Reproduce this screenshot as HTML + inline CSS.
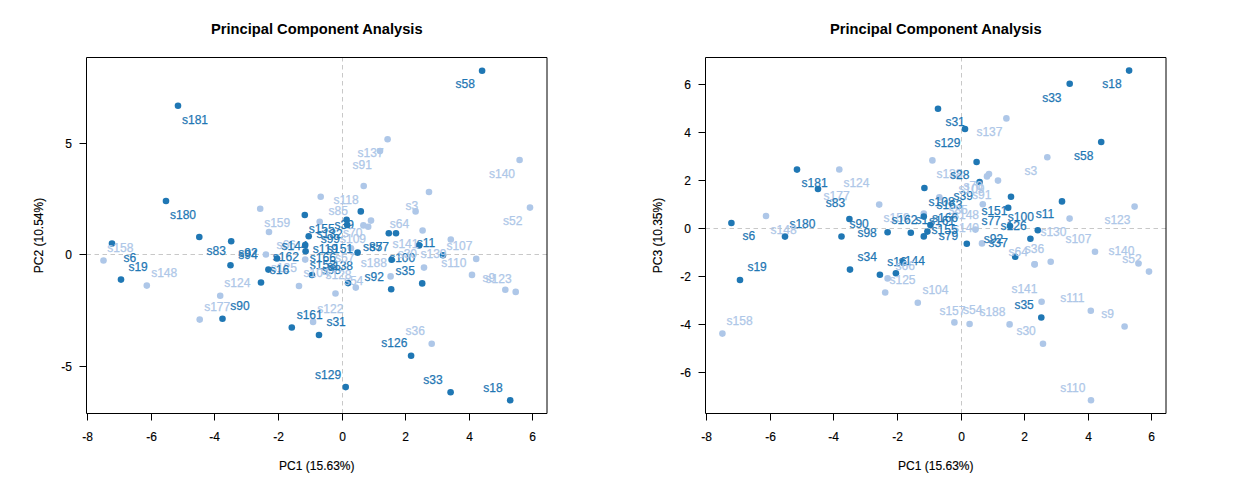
<!DOCTYPE html>
<html><head><meta charset="utf-8"><style>
html,body{margin:0;padding:0;background:#fff;width:1238px;height:500px;overflow:hidden}
svg{display:block}
text{font-family:"Liberation Sans",sans-serif;font-size:12px}
.t{font-weight:bold;font-size:14.7px;fill:#000}
.k{fill:#000;stroke:#000;stroke-width:0.15px}
.lb{stroke-width:0.25px}
.bx{fill:none;stroke:#000;stroke-width:1}
.tk{stroke:#000;stroke-width:1}
.dl{stroke:#c8c8c8;stroke-width:1;stroke-dasharray:4.5 3.5}
</style></head><body>
<svg width="1238" height="500" viewBox="0 0 1238 500">
<rect width="1238" height="500" fill="#fff"/>
<text x="316.8" y="33.6" class="t" text-anchor="middle">Principal Component Analysis</text>
<line x1="342.5" y1="413.5" x2="342.5" y2="57.5" class="dl"/>
<line x1="86.5" y1="254.5" x2="547.0" y2="254.5" class="dl"/>
<circle cx="178.0" cy="105.8" r="3.3" fill="#1F77B4"/>
<circle cx="387.6" cy="139.3" r="3.3" fill="#AEC7E8"/>
<circle cx="380.0" cy="151.0" r="3.3" fill="#AEC7E8"/>
<circle cx="363.7" cy="186.0" r="3.3" fill="#AEC7E8"/>
<circle cx="320.7" cy="196.8" r="3.3" fill="#AEC7E8"/>
<circle cx="482.1" cy="70.7" r="3.3" fill="#1F77B4"/>
<circle cx="166.0" cy="201.0" r="3.3" fill="#1F77B4"/>
<circle cx="199.3" cy="237.0" r="3.3" fill="#1F77B4"/>
<circle cx="112.0" cy="243.6" r="3.3" fill="#1F77B4"/>
<circle cx="231.2" cy="241.2" r="3.3" fill="#1F77B4"/>
<circle cx="260.2" cy="208.8" r="3.3" fill="#AEC7E8"/>
<circle cx="269.0" cy="232.0" r="3.3" fill="#AEC7E8"/>
<circle cx="265.9" cy="254.5" r="3.3" fill="#AEC7E8"/>
<circle cx="277.0" cy="258.5" r="3.3" fill="#1F77B4"/>
<circle cx="230.5" cy="265.2" r="3.3" fill="#1F77B4"/>
<circle cx="103.5" cy="260.5" r="3.3" fill="#AEC7E8"/>
<circle cx="121.0" cy="279.6" r="3.3" fill="#1F77B4"/>
<circle cx="146.8" cy="285.6" r="3.3" fill="#AEC7E8"/>
<circle cx="261.0" cy="282.5" r="3.3" fill="#1F77B4"/>
<circle cx="220.2" cy="295.7" r="3.3" fill="#AEC7E8"/>
<circle cx="199.7" cy="319.6" r="3.3" fill="#AEC7E8"/>
<circle cx="222.5" cy="318.8" r="3.3" fill="#1F77B4"/>
<circle cx="304.8" cy="215.0" r="3.3" fill="#1F77B4"/>
<circle cx="319.7" cy="221.7" r="3.3" fill="#AEC7E8"/>
<circle cx="308.7" cy="236.3" r="3.3" fill="#1F77B4"/>
<circle cx="305.2" cy="245.0" r="3.3" fill="#1F77B4"/>
<circle cx="305.6" cy="251.3" r="3.3" fill="#1F77B4"/>
<circle cx="305.2" cy="259.6" r="3.3" fill="#AEC7E8"/>
<circle cx="268.4" cy="269.6" r="3.3" fill="#1F77B4"/>
<circle cx="346.6" cy="219.8" r="3.3" fill="#1F77B4"/>
<circle cx="347.2" cy="225.0" r="3.3" fill="#1F77B4"/>
<circle cx="360.8" cy="211.4" r="3.3" fill="#1F77B4"/>
<circle cx="371.0" cy="220.6" r="3.3" fill="#AEC7E8"/>
<circle cx="363.4" cy="225.4" r="3.3" fill="#AEC7E8"/>
<circle cx="368.2" cy="226.8" r="3.3" fill="#AEC7E8"/>
<circle cx="388.8" cy="233.2" r="3.3" fill="#1F77B4"/>
<circle cx="396.0" cy="233.2" r="3.3" fill="#1F77B4"/>
<circle cx="357.6" cy="252.6" r="3.3" fill="#1F77B4"/>
<circle cx="351.0" cy="248.3" r="3.3" fill="#AEC7E8"/>
<circle cx="510.2" cy="400.2" r="3.3" fill="#1F77B4"/>
<circle cx="450.6" cy="392.2" r="3.3" fill="#1F77B4"/>
<circle cx="411.1" cy="355.7" r="3.3" fill="#1F77B4"/>
<circle cx="431.7" cy="343.8" r="3.3" fill="#AEC7E8"/>
<circle cx="312.0" cy="275.0" r="3.3" fill="#1F77B4"/>
<circle cx="299.0" cy="286.0" r="3.3" fill="#AEC7E8"/>
<circle cx="422.6" cy="230.5" r="3.3" fill="#AEC7E8"/>
<circle cx="450.8" cy="239.5" r="3.3" fill="#AEC7E8"/>
<circle cx="419.1" cy="245.4" r="3.3" fill="#1F77B4"/>
<circle cx="443.0" cy="255.3" r="3.3" fill="#1F77B4"/>
<circle cx="391.6" cy="259.7" r="3.3" fill="#1F77B4"/>
<circle cx="424.0" cy="267.6" r="3.3" fill="#AEC7E8"/>
<circle cx="390.6" cy="276.4" r="3.3" fill="#AEC7E8"/>
<circle cx="422.2" cy="283.4" r="3.3" fill="#1F77B4"/>
<circle cx="519.6" cy="160.0" r="3.3" fill="#AEC7E8"/>
<circle cx="429.0" cy="192.0" r="3.3" fill="#AEC7E8"/>
<circle cx="530.0" cy="207.6" r="3.3" fill="#AEC7E8"/>
<circle cx="415.6" cy="211.4" r="3.3" fill="#AEC7E8"/>
<circle cx="476.2" cy="258.9" r="3.3" fill="#AEC7E8"/>
<circle cx="472.0" cy="274.9" r="3.3" fill="#AEC7E8"/>
<circle cx="505.3" cy="289.8" r="3.3" fill="#AEC7E8"/>
<circle cx="515.7" cy="291.9" r="3.3" fill="#AEC7E8"/>
<circle cx="335.5" cy="293.5" r="3.3" fill="#AEC7E8"/>
<circle cx="348.1" cy="283.1" r="3.3" fill="#1F77B4"/>
<circle cx="355.8" cy="287.6" r="3.3" fill="#AEC7E8"/>
<circle cx="313.1" cy="321.9" r="3.3" fill="#AEC7E8"/>
<circle cx="291.8" cy="327.5" r="3.3" fill="#1F77B4"/>
<circle cx="319.0" cy="335.0" r="3.3" fill="#1F77B4"/>
<circle cx="345.7" cy="387.1" r="3.3" fill="#1F77B4"/>
<circle cx="391.2" cy="289.3" r="3.3" fill="#1F77B4"/>
<text x="182.0" y="124.3" fill="#1F77B4" stroke="#1F77B4" class="lb">s181</text>
<text x="455.6" y="87.7" fill="#1F77B4" stroke="#1F77B4" class="lb">s58</text>
<text x="170.0" y="219.1" fill="#1F77B4" stroke="#1F77B4" class="lb">s180</text>
<text x="107.3" y="252.0" fill="#AEC7E8" stroke="#AEC7E8" class="lb">s158</text>
<text x="206.5" y="255.0" fill="#1F77B4" stroke="#1F77B4" class="lb">s83</text>
<text x="238.3" y="257.0" fill="#1F77B4" stroke="#1F77B4" class="lb">s92</text>
<text x="238.3" y="259.2" fill="#1F77B4" stroke="#1F77B4" class="lb">s94</text>
<text x="264.2" y="227.0" fill="#AEC7E8" stroke="#AEC7E8" class="lb">s159</text>
<text x="123.5" y="261.8" fill="#1F77B4" stroke="#1F77B4" class="lb">s6</text>
<text x="128.4" y="270.8" fill="#1F77B4" stroke="#1F77B4" class="lb">s19</text>
<text x="151.2" y="276.8" fill="#AEC7E8" stroke="#AEC7E8" class="lb">s148</text>
<text x="224.3" y="287.2" fill="#AEC7E8" stroke="#AEC7E8" class="lb">s124</text>
<text x="204.2" y="311.2" fill="#AEC7E8" stroke="#AEC7E8" class="lb">s177</text>
<text x="230.3" y="310.3" fill="#1F77B4" stroke="#1F77B4" class="lb">s90</text>
<text x="357.6" y="156.9" fill="#AEC7E8" stroke="#AEC7E8" class="lb">s137</text>
<text x="352.5" y="168.9" fill="#AEC7E8" stroke="#AEC7E8" class="lb">s91</text>
<text x="333.5" y="203.5" fill="#AEC7E8" stroke="#AEC7E8" class="lb">s118</text>
<text x="328.6" y="214.7" fill="#AEC7E8" stroke="#AEC7E8" class="lb">s85</text>
<text x="308.7" y="232.8" fill="#1F77B4" stroke="#1F77B4" class="lb">s155</text>
<text x="334.5" y="229.0" fill="#1F77B4" stroke="#1F77B4" class="lb">s39</text>
<text x="316.6" y="237.6" fill="#1F77B4" stroke="#1F77B4" class="lb">s132</text>
<text x="320.7" y="243.0" fill="#1F77B4" stroke="#1F77B4" class="lb">s99</text>
<text x="343.0" y="236.9" fill="#AEC7E8" stroke="#AEC7E8" class="lb">s70</text>
<text x="340.0" y="242.9" fill="#AEC7E8" stroke="#AEC7E8" class="lb">s109</text>
<text x="389.8" y="228.3" fill="#AEC7E8" stroke="#AEC7E8" class="lb">s64</text>
<text x="405.5" y="210.1" fill="#AEC7E8" stroke="#AEC7E8" class="lb">s3</text>
<text x="483.3" y="391.8" fill="#1F77B4" stroke="#1F77B4" class="lb">s18</text>
<text x="423.3" y="383.9" fill="#1F77B4" stroke="#1F77B4" class="lb">s33</text>
<text x="381.3" y="347.0" fill="#1F77B4" stroke="#1F77B4" class="lb">s126</text>
<text x="276.4" y="248.9" fill="#AEC7E8" stroke="#AEC7E8" class="lb">s66</text>
<text x="281.6" y="249.7" fill="#1F77B4" stroke="#1F77B4" class="lb">s144</text>
<text x="272.8" y="260.9" fill="#1F77B4" stroke="#1F77B4" class="lb">s162</text>
<text x="270.8" y="272.1" fill="#AEC7E8" stroke="#AEC7E8" class="lb">s125</text>
<text x="269.8" y="273.8" fill="#1F77B4" stroke="#1F77B4" class="lb">s16</text>
<text x="312.8" y="253.3" fill="#1F77B4" stroke="#1F77B4" class="lb">s119</text>
<text x="327.0" y="253.0" fill="#1F77B4" stroke="#1F77B4" class="lb">s151</text>
<text x="363.0" y="251.3" fill="#1F77B4" stroke="#1F77B4" class="lb">s87</text>
<text x="369.5" y="251.3" fill="#1F77B4" stroke="#1F77B4" class="lb">s57</text>
<text x="360.8" y="267.3" fill="#AEC7E8" stroke="#AEC7E8" class="lb">s188</text>
<text x="389.2" y="262.3" fill="#1F77B4" stroke="#1F77B4" class="lb">s100</text>
<text x="395.6" y="274.5" fill="#1F77B4" stroke="#1F77B4" class="lb">s35</text>
<text x="392.4" y="247.7" fill="#AEC7E8" stroke="#AEC7E8" class="lb">s141</text>
<text x="416.8" y="247.2" fill="#1F77B4" stroke="#1F77B4" class="lb">s11</text>
<text x="397.7" y="258.3" fill="#AEC7E8" stroke="#AEC7E8" class="lb">s30</text>
<text x="420.5" y="258.3" fill="#AEC7E8" stroke="#AEC7E8" class="lb">s139</text>
<text x="446.4" y="249.9" fill="#AEC7E8" stroke="#AEC7E8" class="lb">s107</text>
<text x="441.3" y="266.8" fill="#AEC7E8" stroke="#AEC7E8" class="lb">s110</text>
<text x="489.0" y="177.9" fill="#AEC7E8" stroke="#AEC7E8" class="lb">s140</text>
<text x="503.0" y="224.9" fill="#AEC7E8" stroke="#AEC7E8" class="lb">s52</text>
<text x="482.4" y="282.3" fill="#AEC7E8" stroke="#AEC7E8" class="lb">s9</text>
<text x="485.6" y="282.8" fill="#AEC7E8" stroke="#AEC7E8" class="lb">s123</text>
<text x="317.3" y="313.3" fill="#AEC7E8" stroke="#AEC7E8" class="lb">s122</text>
<text x="296.7" y="318.9" fill="#1F77B4" stroke="#1F77B4" class="lb">s161</text>
<text x="326.4" y="325.9" fill="#1F77B4" stroke="#1F77B4" class="lb">s31</text>
<text x="343.9" y="284.8" fill="#AEC7E8" stroke="#AEC7E8" class="lb">s54</text>
<text x="364.5" y="280.8" fill="#1F77B4" stroke="#1F77B4" class="lb">s92</text>
<text x="405.5" y="334.5" fill="#AEC7E8" stroke="#AEC7E8" class="lb">s36</text>
<text x="315.1" y="379.2" fill="#1F77B4" stroke="#1F77B4" class="lb">s129</text>
<text x="309.8" y="262.3" fill="#1F77B4" stroke="#1F77B4" class="lb">s166</text>
<text x="309.8" y="268.6" fill="#1F77B4" stroke="#1F77B4" class="lb">s153</text>
<text x="321.7" y="273.5" fill="#1F77B4" stroke="#1F77B4" class="lb">s98</text>
<text x="327.0" y="270.0" fill="#1F77B4" stroke="#1F77B4" class="lb">s138</text>
<text x="303.5" y="276.7" fill="#AEC7E8" stroke="#AEC7E8" class="lb">s104</text>
<text x="325.5" y="279.1" fill="#AEC7E8" stroke="#AEC7E8" class="lb">s128</text>
<text x="335.0" y="262.3" fill="#AEC7E8" stroke="#AEC7E8" class="lb">s57</text>
<path d="M86.5 57.5H547.0V413.5H86.5Z" class="bx"/>
<line x1="87.5" y1="413.5" x2="87.5" y2="420.5" class="tk"/>
<text x="87.5" y="440.5" text-anchor="middle" class="k">-8</text>
<line x1="151.5" y1="413.5" x2="151.5" y2="420.5" class="tk"/>
<text x="151.5" y="440.5" text-anchor="middle" class="k">-6</text>
<line x1="214.5" y1="413.5" x2="214.5" y2="420.5" class="tk"/>
<text x="214.5" y="440.5" text-anchor="middle" class="k">-4</text>
<line x1="278.5" y1="413.5" x2="278.5" y2="420.5" class="tk"/>
<text x="278.5" y="440.5" text-anchor="middle" class="k">-2</text>
<line x1="342.5" y1="413.5" x2="342.5" y2="420.5" class="tk"/>
<text x="342.5" y="440.5" text-anchor="middle" class="k">0</text>
<line x1="405.5" y1="413.5" x2="405.5" y2="420.5" class="tk"/>
<text x="405.5" y="440.5" text-anchor="middle" class="k">2</text>
<line x1="469.5" y1="413.5" x2="469.5" y2="420.5" class="tk"/>
<text x="469.5" y="440.5" text-anchor="middle" class="k">4</text>
<line x1="532.5" y1="413.5" x2="532.5" y2="420.5" class="tk"/>
<text x="532.5" y="440.5" text-anchor="middle" class="k">6</text>
<line x1="86.5" y1="143.5" x2="79.5" y2="143.5" class="tk"/>
<text x="72.0" y="147.8" text-anchor="end" class="k">5</text>
<line x1="86.5" y1="254.5" x2="79.5" y2="254.5" class="tk"/>
<text x="72.0" y="258.8" text-anchor="end" class="k">0</text>
<line x1="86.5" y1="366.5" x2="79.5" y2="366.5" class="tk"/>
<text x="72.0" y="370.8" text-anchor="end" class="k">-5</text>
<text x="316.8" y="469.8" text-anchor="middle" class="k">PC1 (15.63%)</text>
<text transform="translate(43.1,235.5) rotate(-90)" text-anchor="middle" class="k">PC2 (10.54%)</text>
<text x="935.8" y="33.6" class="t" text-anchor="middle">Principal Component Analysis</text>
<line x1="961.5" y1="413.5" x2="961.5" y2="57.5" class="dl"/>
<line x1="705.5" y1="228.5" x2="1166.0" y2="228.5" class="dl"/>
<circle cx="797.0" cy="169.6" r="3.3" fill="#1F77B4"/>
<circle cx="818.0" cy="189.0" r="3.3" fill="#1F77B4"/>
<circle cx="766.0" cy="216.0" r="3.3" fill="#AEC7E8"/>
<circle cx="731.4" cy="223.0" r="3.3" fill="#1F77B4"/>
<circle cx="785.0" cy="236.6" r="3.3" fill="#1F77B4"/>
<circle cx="938.0" cy="108.7" r="3.3" fill="#1F77B4"/>
<circle cx="1129.1" cy="70.6" r="3.3" fill="#1F77B4"/>
<circle cx="1069.7" cy="83.8" r="3.3" fill="#1F77B4"/>
<circle cx="1101.2" cy="142.0" r="3.3" fill="#1F77B4"/>
<circle cx="1047.3" cy="157.2" r="3.3" fill="#AEC7E8"/>
<circle cx="1006.4" cy="118.4" r="3.3" fill="#AEC7E8"/>
<circle cx="965.0" cy="129.0" r="3.3" fill="#1F77B4"/>
<circle cx="932.4" cy="160.4" r="3.3" fill="#AEC7E8"/>
<circle cx="976.6" cy="162.0" r="3.3" fill="#1F77B4"/>
<circle cx="989.0" cy="174.0" r="3.3" fill="#AEC7E8"/>
<circle cx="987.0" cy="176.4" r="3.3" fill="#AEC7E8"/>
<circle cx="998.0" cy="180.6" r="3.3" fill="#AEC7E8"/>
<circle cx="979.6" cy="182.0" r="3.3" fill="#1F77B4"/>
<circle cx="924.4" cy="188.0" r="3.3" fill="#1F77B4"/>
<circle cx="1062.0" cy="201.4" r="3.3" fill="#1F77B4"/>
<circle cx="1134.6" cy="206.6" r="3.3" fill="#AEC7E8"/>
<circle cx="1069.6" cy="218.6" r="3.3" fill="#AEC7E8"/>
<circle cx="1095.0" cy="251.7" r="3.3" fill="#AEC7E8"/>
<circle cx="1034.6" cy="264.2" r="3.3" fill="#AEC7E8"/>
<circle cx="1050.7" cy="261.7" r="3.3" fill="#AEC7E8"/>
<circle cx="1138.5" cy="263.5" r="3.3" fill="#AEC7E8"/>
<circle cx="1149.0" cy="271.6" r="3.3" fill="#AEC7E8"/>
<circle cx="1041.6" cy="301.7" r="3.3" fill="#AEC7E8"/>
<circle cx="1041.3" cy="317.5" r="3.3" fill="#1F77B4"/>
<circle cx="1090.8" cy="310.8" r="3.3" fill="#AEC7E8"/>
<circle cx="1124.6" cy="326.5" r="3.3" fill="#AEC7E8"/>
<circle cx="1043.0" cy="343.7" r="3.3" fill="#AEC7E8"/>
<circle cx="1091.0" cy="400.3" r="3.3" fill="#AEC7E8"/>
<circle cx="954.4" cy="322.4" r="3.3" fill="#AEC7E8"/>
<circle cx="969.6" cy="324.0" r="3.3" fill="#AEC7E8"/>
<circle cx="1009.6" cy="324.4" r="3.3" fill="#AEC7E8"/>
<circle cx="740.0" cy="280.0" r="3.3" fill="#1F77B4"/>
<circle cx="722.4" cy="333.6" r="3.3" fill="#AEC7E8"/>
<circle cx="839.3" cy="169.5" r="3.3" fill="#AEC7E8"/>
<circle cx="841.5" cy="236.5" r="3.3" fill="#1F77B4"/>
<circle cx="879.2" cy="204.6" r="3.3" fill="#AEC7E8"/>
<circle cx="849.4" cy="219.0" r="3.3" fill="#1F77B4"/>
<circle cx="887.6" cy="232.2" r="3.3" fill="#1F77B4"/>
<circle cx="850.0" cy="269.6" r="3.3" fill="#1F77B4"/>
<circle cx="879.9" cy="274.7" r="3.3" fill="#1F77B4"/>
<circle cx="895.9" cy="273.3" r="3.3" fill="#1F77B4"/>
<circle cx="887.6" cy="278.4" r="3.3" fill="#AEC7E8"/>
<circle cx="902.8" cy="262.4" r="3.3" fill="#1F77B4"/>
<circle cx="885.2" cy="292.5" r="3.3" fill="#AEC7E8"/>
<circle cx="917.8" cy="302.8" r="3.3" fill="#AEC7E8"/>
<circle cx="939.4" cy="197.4" r="3.3" fill="#AEC7E8"/>
<circle cx="923.8" cy="213.6" r="3.3" fill="#AEC7E8"/>
<circle cx="923.8" cy="216.6" r="3.3" fill="#1F77B4"/>
<circle cx="910.8" cy="232.8" r="3.3" fill="#1F77B4"/>
<circle cx="927.4" cy="231.6" r="3.3" fill="#1F77B4"/>
<circle cx="923.8" cy="236.4" r="3.3" fill="#1F77B4"/>
<circle cx="930.4" cy="225.0" r="3.3" fill="#1F77B4"/>
<circle cx="982.8" cy="204.2" r="3.3" fill="#AEC7E8"/>
<circle cx="1011.0" cy="196.8" r="3.3" fill="#1F77B4"/>
<circle cx="1008.2" cy="207.8" r="3.3" fill="#1F77B4"/>
<circle cx="1010.0" cy="226.0" r="3.3" fill="#1F77B4"/>
<circle cx="1037.8" cy="230.2" r="3.3" fill="#1F77B4"/>
<circle cx="1030.4" cy="238.7" r="3.3" fill="#1F77B4"/>
<circle cx="975.4" cy="229.6" r="3.3" fill="#AEC7E8"/>
<circle cx="982.0" cy="243.4" r="3.3" fill="#AEC7E8"/>
<circle cx="1015.2" cy="256.8" r="3.3" fill="#1F77B4"/>
<circle cx="1034.6" cy="264.4" r="3.3" fill="#AEC7E8"/>
<circle cx="966.8" cy="243.7" r="3.3" fill="#1F77B4"/>
<text x="801.6" y="186.9" fill="#1F77B4" stroke="#1F77B4" class="lb">s181</text>
<text x="789.4" y="227.9" fill="#1F77B4" stroke="#1F77B4" class="lb">s180</text>
<text x="770.6" y="234.1" fill="#AEC7E8" stroke="#AEC7E8" class="lb">s148</text>
<text x="742.5" y="240.1" fill="#1F77B4" stroke="#1F77B4" class="lb">s6</text>
<text x="1102.3" y="88.0" fill="#1F77B4" stroke="#1F77B4" class="lb">s18</text>
<text x="1042.2" y="101.9" fill="#1F77B4" stroke="#1F77B4" class="lb">s33</text>
<text x="1074.1" y="159.9" fill="#1F77B4" stroke="#1F77B4" class="lb">s58</text>
<text x="945.4" y="126.1" fill="#1F77B4" stroke="#1F77B4" class="lb">s31</text>
<text x="976.4" y="135.5" fill="#AEC7E8" stroke="#AEC7E8" class="lb">s137</text>
<text x="934.4" y="146.9" fill="#1F77B4" stroke="#1F77B4" class="lb">s129</text>
<text x="936.4" y="177.9" fill="#AEC7E8" stroke="#AEC7E8" class="lb">s138</text>
<text x="950.0" y="178.9" fill="#1F77B4" stroke="#1F77B4" class="lb">s28</text>
<text x="1024.4" y="174.5" fill="#AEC7E8" stroke="#AEC7E8" class="lb">s3</text>
<text x="1104.4" y="223.5" fill="#AEC7E8" stroke="#AEC7E8" class="lb">s123</text>
<text x="1065.4" y="242.5" fill="#AEC7E8" stroke="#AEC7E8" class="lb">s107</text>
<text x="1108.4" y="254.5" fill="#AEC7E8" stroke="#AEC7E8" class="lb">s140</text>
<text x="1040.4" y="235.7" fill="#AEC7E8" stroke="#AEC7E8" class="lb">s130</text>
<text x="1122.3" y="262.7" fill="#AEC7E8" stroke="#AEC7E8" class="lb">s52</text>
<text x="1060.2" y="301.8" fill="#AEC7E8" stroke="#AEC7E8" class="lb">s111</text>
<text x="1101.2" y="317.5" fill="#AEC7E8" stroke="#AEC7E8" class="lb">s9</text>
<text x="1060.3" y="391.8" fill="#AEC7E8" stroke="#AEC7E8" class="lb">s110</text>
<text x="1016.4" y="334.5" fill="#AEC7E8" stroke="#AEC7E8" class="lb">s30</text>
<text x="922.4" y="294.1" fill="#AEC7E8" stroke="#AEC7E8" class="lb">s104</text>
<text x="939.4" y="314.9" fill="#AEC7E8" stroke="#AEC7E8" class="lb">s157</text>
<text x="963.0" y="314.1" fill="#AEC7E8" stroke="#AEC7E8" class="lb">s54</text>
<text x="979.4" y="315.5" fill="#AEC7E8" stroke="#AEC7E8" class="lb">s188</text>
<text x="1011.4" y="293.1" fill="#AEC7E8" stroke="#AEC7E8" class="lb">s141</text>
<text x="1014.4" y="308.9" fill="#1F77B4" stroke="#1F77B4" class="lb">s35</text>
<text x="747.4" y="270.9" fill="#1F77B4" stroke="#1F77B4" class="lb">s19</text>
<text x="726.6" y="324.9" fill="#AEC7E8" stroke="#AEC7E8" class="lb">s158</text>
<text x="823.6" y="200.1" fill="#AEC7E8" stroke="#AEC7E8" class="lb">s177</text>
<text x="825.8" y="206.9" fill="#1F77B4" stroke="#1F77B4" class="lb">s83</text>
<text x="843.4" y="186.9" fill="#AEC7E8" stroke="#AEC7E8" class="lb">s124</text>
<text x="849.4" y="227.5" fill="#1F77B4" stroke="#1F77B4" class="lb">s90</text>
<text x="857.4" y="236.5" fill="#1F77B4" stroke="#1F77B4" class="lb">s98</text>
<text x="857.5" y="261.0" fill="#1F77B4" stroke="#1F77B4" class="lb">s34</text>
<text x="883.6" y="222.1" fill="#AEC7E8" stroke="#AEC7E8" class="lb">s159</text>
<text x="887.3" y="265.8" fill="#1F77B4" stroke="#1F77B4" class="lb">s16</text>
<text x="898.8" y="264.8" fill="#1F77B4" stroke="#1F77B4" class="lb">s144</text>
<text x="895.6" y="269.8" fill="#AEC7E8" stroke="#AEC7E8" class="lb">s66</text>
<text x="889.5" y="283.7" fill="#AEC7E8" stroke="#AEC7E8" class="lb">s125</text>
<text x="928.6" y="206.3" fill="#1F77B4" stroke="#1F77B4" class="lb">s108</text>
<text x="936.4" y="208.7" fill="#1F77B4" stroke="#1F77B4" class="lb">s163</text>
<text x="891.4" y="223.7" fill="#1F77B4" stroke="#1F77B4" class="lb">s162</text>
<text x="915.4" y="224.3" fill="#1F77B4" stroke="#1F77B4" class="lb">s1</text>
<text x="953.6" y="199.5" fill="#1F77B4" stroke="#1F77B4" class="lb">s39</text>
<text x="963.4" y="190.0" fill="#AEC7E8" stroke="#AEC7E8" class="lb">s70</text>
<text x="958.5" y="192.5" fill="#AEC7E8" stroke="#AEC7E8" class="lb">s109</text>
<text x="972.0" y="199.1" fill="#AEC7E8" stroke="#AEC7E8" class="lb">s91</text>
<text x="948.4" y="213.8" fill="#AEC7E8" stroke="#AEC7E8" class="lb">s85</text>
<text x="981.4" y="214.5" fill="#1F77B4" stroke="#1F77B4" class="lb">s151</text>
<text x="981.4" y="225.3" fill="#1F77B4" stroke="#1F77B4" class="lb">s77</text>
<text x="1007.8" y="221.1" fill="#1F77B4" stroke="#1F77B4" class="lb">s100</text>
<text x="1000.6" y="229.7" fill="#1F77B4" stroke="#1F77B4" class="lb">s126</text>
<text x="1035.8" y="218.1" fill="#1F77B4" stroke="#1F77B4" class="lb">s11</text>
<text x="983.8" y="243.3" fill="#1F77B4" stroke="#1F77B4" class="lb">s92</text>
<text x="988.6" y="246.9" fill="#1F77B4" stroke="#1F77B4" class="lb">s37</text>
<text x="1024.8" y="252.5" fill="#AEC7E8" stroke="#AEC7E8" class="lb">s36</text>
<text x="1008.6" y="256.1" fill="#AEC7E8" stroke="#AEC7E8" class="lb">s64</text>
<text x="953.0" y="219.4" fill="#AEC7E8" stroke="#AEC7E8" class="lb">s148</text>
<text x="953.0" y="232.2" fill="#AEC7E8" stroke="#AEC7E8" class="lb">s140</text>
<text x="938.8" y="240.2" fill="#1F77B4" stroke="#1F77B4" class="lb">s79</text>
<text x="931.6" y="234.2" fill="#1F77B4" stroke="#1F77B4" class="lb">s155</text>
<text x="929.0" y="225.4" fill="#1F77B4" stroke="#1F77B4" class="lb">s161</text>
<text x="932.0" y="222.0" fill="#1F77B4" stroke="#1F77B4" class="lb">s166</text>
<path d="M705.5 57.5H1166.0V413.5H705.5Z" class="bx"/>
<line x1="706.5" y1="413.5" x2="706.5" y2="420.5" class="tk"/>
<text x="706.5" y="440.5" text-anchor="middle" class="k">-8</text>
<line x1="770.5" y1="413.5" x2="770.5" y2="420.5" class="tk"/>
<text x="770.5" y="440.5" text-anchor="middle" class="k">-6</text>
<line x1="833.5" y1="413.5" x2="833.5" y2="420.5" class="tk"/>
<text x="833.5" y="440.5" text-anchor="middle" class="k">-4</text>
<line x1="897.5" y1="413.5" x2="897.5" y2="420.5" class="tk"/>
<text x="897.5" y="440.5" text-anchor="middle" class="k">-2</text>
<line x1="961.5" y1="413.5" x2="961.5" y2="420.5" class="tk"/>
<text x="961.5" y="440.5" text-anchor="middle" class="k">0</text>
<line x1="1024.5" y1="413.5" x2="1024.5" y2="420.5" class="tk"/>
<text x="1024.5" y="440.5" text-anchor="middle" class="k">2</text>
<line x1="1088.5" y1="413.5" x2="1088.5" y2="420.5" class="tk"/>
<text x="1088.5" y="440.5" text-anchor="middle" class="k">4</text>
<line x1="1151.5" y1="413.5" x2="1151.5" y2="420.5" class="tk"/>
<text x="1151.5" y="440.5" text-anchor="middle" class="k">6</text>
<line x1="705.5" y1="84.5" x2="698.5" y2="84.5" class="tk"/>
<text x="691.0" y="88.8" text-anchor="end" class="k">6</text>
<line x1="705.5" y1="132.5" x2="698.5" y2="132.5" class="tk"/>
<text x="691.0" y="136.8" text-anchor="end" class="k">4</text>
<line x1="705.5" y1="180.5" x2="698.5" y2="180.5" class="tk"/>
<text x="691.0" y="184.8" text-anchor="end" class="k">2</text>
<line x1="705.5" y1="228.5" x2="698.5" y2="228.5" class="tk"/>
<text x="691.0" y="232.8" text-anchor="end" class="k">0</text>
<line x1="705.5" y1="276.5" x2="698.5" y2="276.5" class="tk"/>
<text x="691.0" y="280.8" text-anchor="end" class="k">-2</text>
<line x1="705.5" y1="324.5" x2="698.5" y2="324.5" class="tk"/>
<text x="691.0" y="328.8" text-anchor="end" class="k">-4</text>
<line x1="705.5" y1="372.5" x2="698.5" y2="372.5" class="tk"/>
<text x="691.0" y="376.8" text-anchor="end" class="k">-6</text>
<text x="935.8" y="469.8" text-anchor="middle" class="k">PC1 (15.63%)</text>
<text transform="translate(662.1,235.5) rotate(-90)" text-anchor="middle" class="k">PC3 (10.35%)</text>
</svg>
</body></html>
